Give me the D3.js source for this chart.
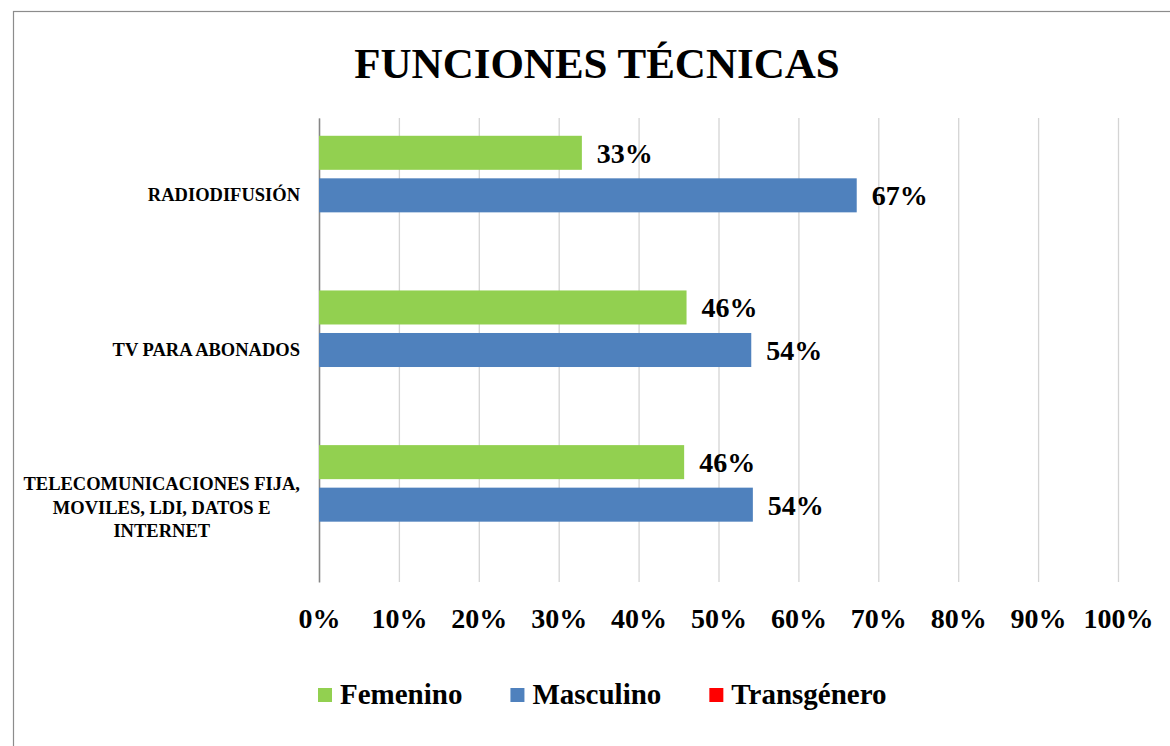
<!DOCTYPE html>
<html>
<head>
<meta charset="utf-8">
<script src="https://cdn.jsdelivr.net/npm/d3@7"></script>
<style>
  body { margin: 0; background: #fff; }
  text { font-family: "Liberation Serif", "DejaVu Serif", serif; font-weight: bold; fill: #000; }
</style>
</head>
<body>
<svg id="chart" width="1170" height="746"></svg>
<script>
// chart values
const categories = ["RADIODIFUSIÓN", "TV PARA ABONADOS", "TELECOMUNICACIONES FIJA, MOVILES, LDI, DATOS E INTERNET"];
const categoryLines = [["RADIODIFUSIÓN"], ["TV PARA ABONADOS"], ["TELECOMUNICACIONES FIJA,", "MOVILES, LDI, DATOS E", "INTERNET"]];
const seriesNames = ["Femenino", "Masculino", "Transgénero"];
const femenino = [0.329, 0.460, 0.457];
const masculino = [0.673, 0.541, 0.543];
const transgenero = [0, 0, 0];
const xTicks = [0, 0.1, 0.2, 0.3, 0.4, 0.5, 0.6, 0.7, 0.8, 0.9, 1];

const seriesColors = ["#92d050", "#4f81bd", "#ff0000"];
const seriesValues = [femenino, masculino, transgenero];

const svg = d3.select("#chart");
const pct = d3.format(".0%");

// outer chart frame (runs past the right/bottom edge, as in the picture)
svg.append("rect")
  .attr("x", 13.5).attr("y", 11.5)
  .attr("width", 1200).attr("height", 800)
  .attr("fill", "none").attr("stroke", "#8c8c8c").attr("stroke-width", 1.2);

svg.append("text")
  .attr("x", 597).attr("y", 78)
  .attr("text-anchor", "middle")
  .style("font-size", "43px")
  .text("FUNCIONES TÉCNICAS");

const plot = { left: 319, right: 1118, top: 118, bottom: 582 };

const x = d3.scaleLinear().domain([0, 1]).range([plot.left, plot.right]);
const y = d3.scaleBand().domain(categories).range([plot.top, plot.bottom])
  .paddingInner(0.23).paddingOuter(0.115);
const ySeries = d3.scaleBand().domain(seriesNames).range([0, y.bandwidth()])
  .paddingInner(0.2);

// gridlines
const grid = svg.append("g")
  .attr("transform", `translate(0,${plot.bottom})`)
  .call(d3.axisBottom(x).tickValues(xTicks).tickSize(-(plot.bottom - plot.top)).tickFormat(""));
grid.select(".domain").remove();
grid.selectAll("line").attr("stroke", "#d4d4d4").attr("stroke-width", 1.3);

// tick labels
const xLabels = svg.append("g")
  .attr("transform", `translate(0,${plot.bottom})`)
  .call(d3.axisBottom(x).tickValues(xTicks).tickSize(0).tickFormat(pct));
xLabels.select(".domain").remove();
xLabels.selectAll("text")
  .attr("y", 46).attr("dy", null)
  .style("font-size", "28px")
  .style("font-family", null);

// category axis line
const yAxis = svg.append("g")
  .attr("transform", `translate(${plot.left},0)`)
  .call(d3.axisLeft(y).tickSize(0).tickFormat(""));
yAxis.select(".domain").attr("stroke", "#868686").attr("stroke-width", 1.5);

// category labels: block right aligned, lines centred inside the block
categories.forEach((c, i) => {
  const lines = categoryLines[i];
  const lh = 23.5;
  const cy = y(c) + y.bandwidth() / 2 + (lines.length > 1 ? 3 : 0);
  const g = svg.append("g");
  const t = g.selectAll("text").data(lines).join("text")
    .attr("text-anchor", "middle")
    .style("font-size", "18.5px")
    .text(d => d);
  let maxW = 0;
  t.each(function() { maxW = Math.max(maxW, this.getComputedTextLength()); });
  const cx = 300 - maxW / 2;
  t.attr("x", cx)
    .attr("y", (d, j) => cy + (j - (lines.length - 1) / 2) * lh + 6);
});

// bars
seriesNames.forEach((s, si) => {
  const vals = seriesValues[si];
  const g = svg.append("g");
  g.selectAll("rect").data(categories).join("rect")
    .attr("x", x(0))
    .attr("y", c => y(c) + ySeries(s))
    .attr("width", (c, i) => x(vals[i]) - x(0))
    .attr("height", ySeries.bandwidth())
    .attr("fill", seriesColors[si]);
  g.selectAll("text").data(categories.filter((c, i) => vals[i] > 0)).join("text")
    .attr("x", c => x(vals[categories.indexOf(c)]) + 15)
    .attr("y", c => y(c) + ySeries(s) + ySeries.bandwidth() / 2 + 10)
    .style("font-size", "28px")
    .text(c => pct(vals[categories.indexOf(c)]));
});

// legend
const legend = svg.append("g");
let lx = 318;
seriesNames.forEach((s, si) => {
  legend.append("rect")
    .attr("x", lx).attr("y", 688)
    .attr("width", 14).attr("height", 14)
    .attr("fill", seriesColors[si]);
  const t = legend.append("text")
    .attr("x", lx + 22).attr("y", 704)
    .style("font-size", "29px")
    .text(s);
  lx += 22 + t.node().getComputedTextLength() + 48;
});
</script>
</body>
</html>
